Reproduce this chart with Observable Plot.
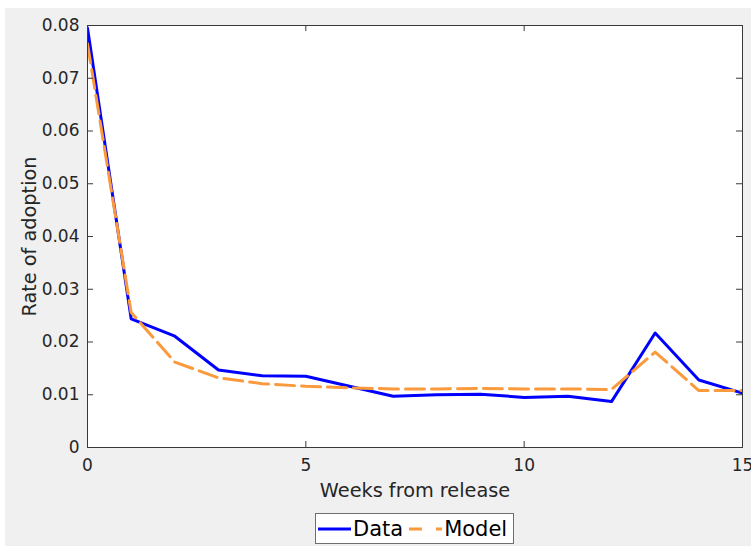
<!DOCTYPE html>
<html>
<head>
<meta charset="utf-8">
<script src="https://cdn.jsdelivr.net/npm/d3@7"></script>
<script src="https://cdn.jsdelivr.net/npm/@observablehq/plot@0.6"></script>
<style>
  html, body { margin: 0; padding: 0; background: #ffffff; }
  #fig { position: absolute; left: 5px; top: 8px; width: 746px; height: 538px; background: #f0f0f0; overflow: hidden; }
  #chart { position: absolute; left: 0; top: 0; }
  #legend { position: absolute; left: 310px; top: 505px; width: 199px; height: 31px; box-sizing: border-box;
            background: #ffffff; border: 1px solid #6e6e6e; font-family: "DejaVu Sans", sans-serif; font-size: 21px; color: #000;
            display: flex; align-items: center; }
  #legend .item { display: flex; align-items: center; }
  #legend svg { display: block; }
</style>
</head>
<body>
<div id="fig">
  <div id="chart"></div>
  <div id="legend"></div>
</div>
<script>
const weeks = [0, 1, 2, 3, 4, 5, 6, 7, 8, 9, 10, 11, 12, 13, 14, 15];
const dataRate = [0.0795, 0.0244, 0.0211, 0.0147, 0.0136, 0.0135, 0.0116, 0.0097, 0.0100, 0.0101, 0.0095, 0.0097, 0.0087, 0.0217, 0.0128, 0.0103];
const modelRate = [0.0765, 0.0256, 0.0162, 0.0132, 0.0121, 0.0116, 0.0113, 0.0111, 0.0111, 0.0112, 0.0111, 0.0111, 0.0110, 0.0181, 0.0108, 0.0108];
const xTicks = [0, 5, 10, 15];
const yTicks = [0, 0.01, 0.02, 0.03, 0.04, 0.05, 0.06, 0.07, 0.08];
const seriesNames = ["Data", "Model"];
const seriesColors = ["#0000ff", "#fa9a3c"];
const xLabel = "Weeks from release";
const yLabel = "Rate of adoption";

const W = 746, H = 500, mL = 82, mT = 17, mR = 9, mB = 61;
const innerW = W - mL - mR, innerH = H - mT - mB;
const tickLen = 6;
const axisColor = "#3a3a3a";
const textColor = "#262626";

const rows = [];
weeks.forEach((w, i) => {
  rows.push({week: w, value: dataRate[i], series: seriesNames[0]});
});
const modelRows = weeks.map((w, i) => ({week: w, value: modelRate[i], series: seriesNames[1]}));

const chart = Plot.plot({
  width: W, height: H,
  marginLeft: mL, marginTop: mT, marginRight: mR, marginBottom: mB,
  style: {background: "transparent", fontFamily: "DejaVu Sans, sans-serif", fontSize: "17px", color: textColor},
  x: {domain: [0, 15]},
  y: {domain: [0, 0.08]},
  marks: [
    Plot.frame({fill: "white"}),
    Plot.lineY(rows, {x: "week", y: "value", stroke: seriesColors[0], strokeWidth: 3, clip: true}),
    Plot.lineY(modelRows, {x: "week", y: "value", stroke: seriesColors[1], strokeWidth: 3, strokeDasharray: "19,7", clip: true}),
    Plot.frame({stroke: axisColor, strokeWidth: 1}),
    Plot.tickX(xTicks, {x: d => d, insetTop: innerH - tickLen, stroke: axisColor}),
    Plot.tickX(xTicks, {x: d => d, insetBottom: innerH - tickLen, stroke: axisColor}),
    Plot.tickY(yTicks, {y: d => d, insetRight: innerW - tickLen, stroke: axisColor}),
    Plot.tickY(yTicks, {y: d => d, insetLeft: innerW - tickLen, stroke: axisColor}),
    Plot.axisX(xTicks, {tickSize: 0, tickPadding: 11, label: null, fontSize: 17, fill: textColor, tickFormat: d => String(d)}),
    Plot.axisY(yTicks, {tickSize: 0, tickPadding: 8, label: null, fontSize: 17, fill: textColor, tickFormat: d => d === 0 ? "0" : d.toFixed(2)}),
    Plot.text([xLabel], {frameAnchor: "bottom", dy: 49, lineAnchor: "bottom", textAnchor: "middle", fontSize: 19.3, fill: textColor, text: d => d}),
    Plot.text([yLabel], {frameAnchor: "left", dx: -52, rotate: -90, lineAnchor: "bottom", textAnchor: "middle", fontSize: 19.3, fill: textColor, text: d => d})
  ]
});
document.getElementById("chart").appendChild(chart);

// Legend (HTML, below the plot)
const legend = d3.select("#legend");
// Data item
const it1 = legend.append("div").attr("class", "item").style("margin-left", "2px");
const s1 = it1.append("svg").attr("width", 33).attr("height", 10);
s1.append("line").attr("x1", 0).attr("x2", 33).attr("y1", 5).attr("y2", 5).attr("stroke", seriesColors[0]).attr("stroke-width", 3);
it1.append("span").text(seriesNames[0]).style("margin-left", "2px");
// Model item
const it2 = legend.append("div").attr("class", "item").style("margin-left", "6px");
const s2 = it2.append("svg").attr("width", 33).attr("height", 10);
s2.append("line").attr("x1", 0).attr("x2", 33).attr("y1", 5).attr("y2", 5).attr("stroke", seriesColors[1]).attr("stroke-width", 3).attr("stroke-dasharray", "13,14");
it2.append("span").text(seriesNames[1]).style("margin-left", "2px");
</script>
</body>
</html>
